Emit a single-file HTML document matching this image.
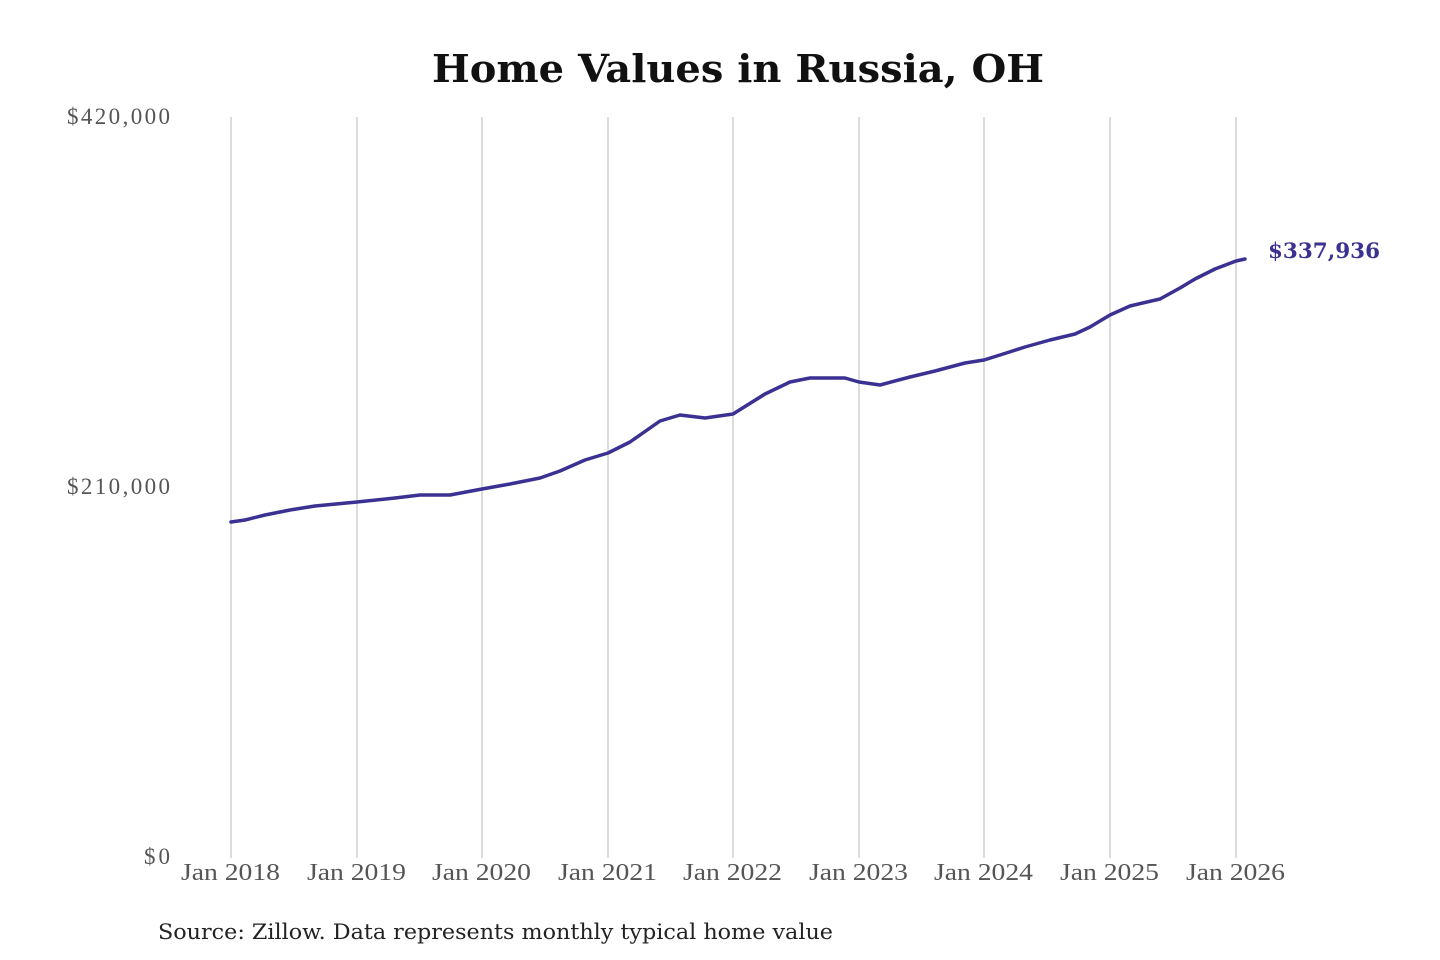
<!DOCTYPE html>
<html><head><meta charset="utf-8"><style>
html,body{margin:0;padding:0;background:#fff;width:1440px;height:960px;overflow:hidden}
</style></head><body>
<svg width="1440" height="960" viewBox="0 0 1440 960" xmlns="http://www.w3.org/2000/svg">
<text x="432" y="82" textLength="612" lengthAdjust="spacingAndGlyphs" font-family="DejaVu Serif, serif" font-weight="bold" font-size="38" fill="#111">Home Values in Russia, OH</text>
<g stroke="#c4c4c4" stroke-width="1.2">
<line x1="231" y1="117" x2="231" y2="858"/><line x1="357" y1="117" x2="357" y2="858"/>
<line x1="482" y1="117" x2="482" y2="858"/><line x1="608" y1="117" x2="608" y2="858"/>
<line x1="733" y1="117" x2="733" y2="858"/><line x1="859" y1="117" x2="859" y2="858"/>
<line x1="984" y1="117" x2="984" y2="858"/><line x1="1110" y1="117" x2="1110" y2="858"/>
<line x1="1236" y1="117" x2="1236" y2="858"/>
</g>
<g font-family="Liberation Serif, serif" font-size="23" fill="#555" lengthAdjust="spacingAndGlyphs">
<text x="67" y="124" textLength="103">$420,000</text><text x="67" y="494" textLength="103">$210,000</text><text x="144" y="864" textLength="26">$0</text>
</g>
<g font-family="Liberation Serif, serif" font-size="24" fill="#555">
<text x="181" y="880" textLength="99" lengthAdjust="spacingAndGlyphs">Jan 2018</text>
<text x="307" y="880" textLength="99" lengthAdjust="spacingAndGlyphs">Jan 2019</text>
<text x="432" y="880" textLength="99" lengthAdjust="spacingAndGlyphs">Jan 2020</text>
<text x="558" y="880" textLength="99" lengthAdjust="spacingAndGlyphs">Jan 2021</text>
<text x="683" y="880" textLength="99" lengthAdjust="spacingAndGlyphs">Jan 2022</text>
<text x="809" y="880" textLength="99" lengthAdjust="spacingAndGlyphs">Jan 2023</text>
<text x="934" y="880" textLength="99" lengthAdjust="spacingAndGlyphs">Jan 2024</text>
<text x="1060" y="880" textLength="99" lengthAdjust="spacingAndGlyphs">Jan 2025</text>
<text x="1186" y="880" textLength="99" lengthAdjust="spacingAndGlyphs">Jan 2026</text>
</g>
<polyline fill="none" stroke="#3a3192" stroke-width="3.5" stroke-linejoin="round" stroke-linecap="round" points="231,522 245,520 265,515 290,510 315,506 357,502 395,498 420,495 450,495 482,489 510,484 540,478 560,471 585,460 608,453 630,442 660,421 680,415 705,418 733,414 765,394 790,382 810,378 845,378 859,382 880,385 910,377 935,371 965,363 984,360 1000,355 1025,347 1050,340 1075,334 1090,327 1110,315 1130,306 1160,299 1180,288 1195,279 1215,269 1236,261 1245,259"/>
<text x="1268" y="258" textLength="112" lengthAdjust="spacingAndGlyphs" font-family="DejaVu Serif, serif" font-weight="bold" font-size="21" fill="#3a3192">$337,936</text>
<text x="158" y="939" textLength="675" lengthAdjust="spacingAndGlyphs" font-family="DejaVu Serif, serif" font-size="21" fill="#222">Source: Zillow. Data represents monthly typical home value</text>
</svg>
</body></html>
